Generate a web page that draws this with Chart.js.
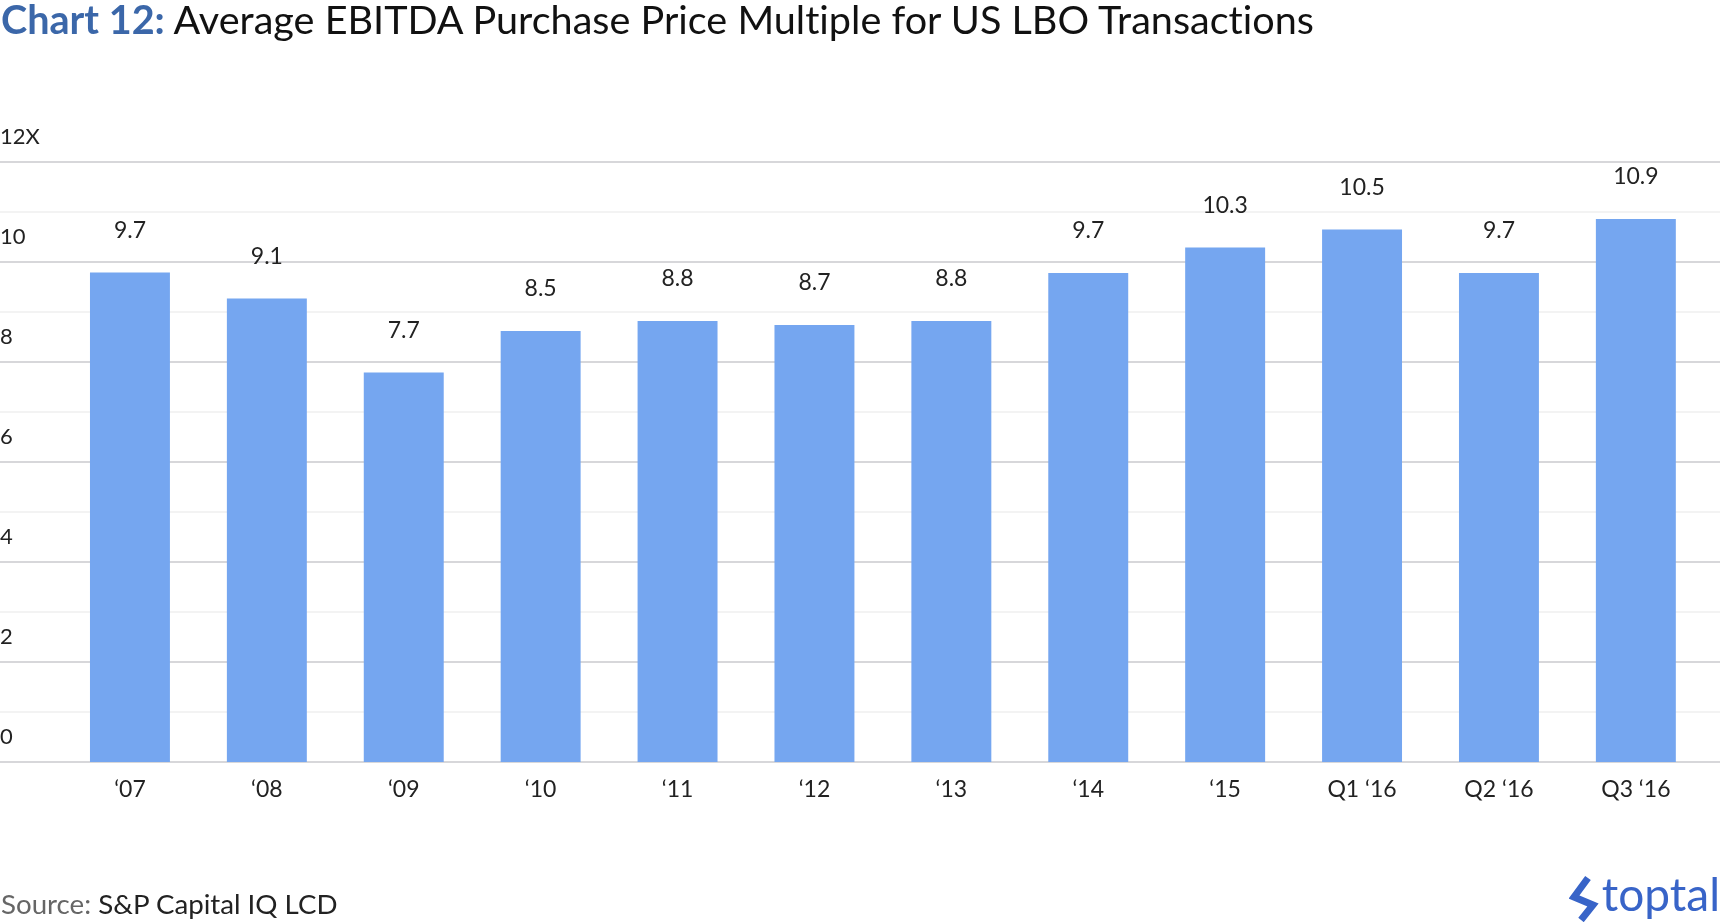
<!DOCTYPE html>
<html>
<head>
<meta charset="utf-8">
<script src="https://cdn.jsdelivr.net/npm/chart.js@4.4.1/dist/chart.umd.min.js"></script>
<style>
    html, body { margin:0; padding:0; background:#fff; overflow:hidden; }
    body { width:1720px; height:922px; position:relative; font-family:Lato, "Open Sans", sans-serif; font-variant-ligatures:none; }
    #wrap { position:absolute; left:0; top:0; width:1720px; height:922px; }
    .title { position:absolute; left:1px; top:-1px; font-size:39.6px; line-height:40px; color:#111; white-space:nowrap; }
    .title b { color:#3b67a9; font-weight:700; }
    .source { position:absolute; left:1px; top:890px; font-size:27.7px; line-height:28px; color:#222; white-space:nowrap; }
    .source span { color:#666; }
    .logo { position:absolute; right:0; top:871px; font-size:46px; line-height:46px; color:#3864c8; white-space:nowrap; }
    .mark { position:absolute; left:1569px; top:875px; }
</style>
</head>
<body>
<div id="wrap"><canvas id="chart"></canvas></div>
<div class="title"><b>Chart 12:</b> Average EBITDA Purchase Price Multiple for US LBO Transactions</div>
<div class="source"><span>Source:</span> S&amp;P Capital IQ LCD</div>
<svg class="mark" width="34" height="47" viewBox="0 0 34 47">
    <path d="M19 3 L5 22 L24 30 L12 45" fill="none" stroke="#3864c8" stroke-width="7" stroke-linejoin="miter"/>
</svg>
<div class="logo">toptal</div>
<script>
const categories = ['‘07', '‘08', '‘09', '‘10', '‘11', '‘12', '‘13', '‘14', '‘15', 'Q1 ‘16', 'Q2 ‘16', 'Q3 ‘16'];
// printed labels
const multipleLabels = ['9.7', '9.1', '7.7', '8.5', '8.8', '8.7', '8.8', '9.7', '10.3', '10.5', '9.7', '10.9'];
// bar heights as drawn in the picture
const barHeights = [9.79, 9.27, 7.79, 8.62, 8.82, 8.74, 8.82, 9.78, 10.29, 10.65, 9.78, 10.86];
const yTicks = [0, 2, 4, 6, 8, 10, 12];

const FONT = 'Lato, "Open Sans", sans-serif';

// grid lines run the full page width, dark on even values, light on odd
const fullGrid = {
    id:'fullGrid',
    beforeDatasetsDraw(chart) {
        const ctx = chart.ctx;
        const y = chart.scales.y;
        ctx.save();
        for (let v = 0; v <= 12; v++) {
            const py = Math.round(y.getPixelForValue(v));
            ctx.strokeStyle = v % 2 ? '#efefef' : '#d7d7da';
            ctx.lineWidth = v % 2 ? 1.5 : 2;
            ctx.beginPath();
            ctx.moveTo(0, py);
            ctx.lineTo(chart.width, py);
            ctx.stroke();
        }
        ctx.restore();
    }
};

const valueLabels = {
    id:'valueLabels',
    afterDatasetsDraw(chart) {
        const ctx = chart.ctx;
        const meta = chart.getDatasetMeta(0);
        ctx.save();
        ctx.font = `23px ${FONT}`;
        ctx.fillStyle = '#222';
        ctx.textAlign = 'center';
        ctx.textBaseline = 'alphabetic';
        meta.data.forEach((bar, i) => {
            ctx.fillText(multipleLabels[i], bar.x, bar.y - 35);
        });
        ctx.restore();
    }
};

new Chart(document.getElementById('chart'), {
    type:'bar',
    data:{
        labels:categories,
        datasets:[{
            data:barHeights,
            backgroundColor:'#75a6f0',
            barPercentage:0.584,
            categoryPercentage:1
        }]
    },
    options:{
        responsive:true,
        maintainAspectRatio:false,
        animation:false,
        layout:{ padding:{ top:162, bottom:100, left:0, right:15.7 } },
        plugins:{ legend:{display:false}, tooltip:{enabled:false} },
        scales:{
            x:{
                grid:{ display:false, drawTicks:false },
                border:{ display:false },
                ticks:{ color:'#222', font:{ family:FONT, size:23 }, padding:14, maxRotation:0 },
                afterFit(scale) { scale.height = 60; }
            },
            y:{
                min:0,
                max:12,
                afterBuildTicks(scale) { scale.ticks = yTicks.map(v => ({ value:v })); },
                grid:{ display:false, drawTicks:false },
                border:{ display:false },
                ticks:{
                    color:'#222',
                    font:{ family:FONT, size:22 },
                    crossAlign:'far',
                    labelOffset:-25,
                    padding:0,
                    callback:v => v === 12 ? '12X' : String(v)
                },
                afterFit(scale) { scale.width = 61.5; }
            }
        }
    },
    plugins:[fullGrid, valueLabels]
});
</script>
</body>
</html>
